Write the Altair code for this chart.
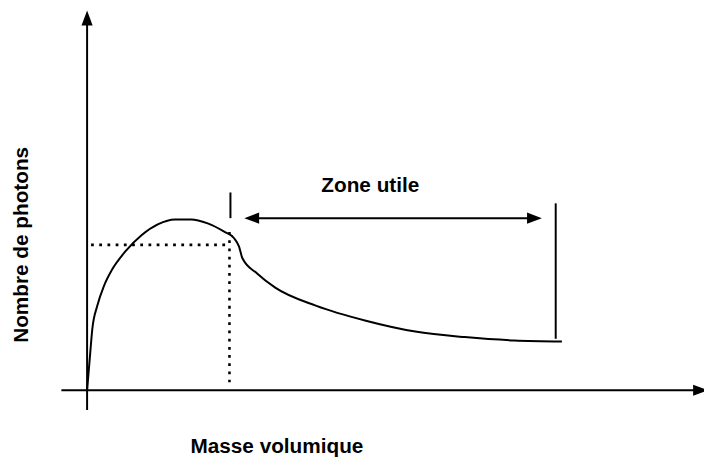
import altair as alt
import pandas as pd

# ---- data (arbitrary units: density on x, photon count on y) ----
curve_x = [0, 2.7, 5.3, 10.3, 17, 25.3, 38.7, 55.3, 72, 88.7, 105.3, 122, 138.7,
           148.7, 153.7, 157, 172, 190.3, 232, 282, 332, 382, 432, 480.3]
curve_y = [0, 32, 62, 85.3, 105.3, 122, 140.3, 157, 168, 172.7, 172.7, 168.7, 160.3,
           153.7, 145.3, 133.7, 118, 103.7, 85.3, 70.3, 59.3, 53.7, 50.3, 49.3]

# solid segments: axes, limit ticks, double-arrow shaft
seg_x1 = [0, -26, 145, 474, 166]
seg_y1 = [-20, 0, 174, 52, 174]
seg_x2 = [0, 615, 145, 474, 453]
seg_y2 = [370, 0, 200, 189, 174]

# dotted projection lines
dot_x1 = [4, 144]
dot_y1 = [147, 160]
dot_x2 = [144, 144]
dot_y2 = [147, 8]

# arrow tips
up_tip_x, up_tip_y = [0], [384]
right_tip_x, right_tip_y = [628, 460], [0, 174]
left_tip_x, left_tip_y = [159], [174]

labels = ["Zone utile", "Masse volumique", "Nombre de photons"]
label_x = [286.5, 192, -60]
label_y = [200, -64, 147]

W, H = 704, 450
xs = alt.Scale(domain=[-80, 624], nice=False, zero=False)
ys = alt.Scale(domain=[-66, 384], nice=False, zero=False)
FONT = "Liberation Sans"


def X(f):
    return alt.X(f, type="quantitative", scale=xs, axis=None)


def Y(f):
    return alt.Y(f, type="quantitative", scale=ys, axis=None)


curve_df = pd.DataFrame({"x": curve_x, "y": curve_y})
seg_df = pd.DataFrame({"x": seg_x1, "y": seg_y1, "x2": seg_x2, "y2": seg_y2})
dot_df = pd.DataFrame({"x": dot_x1, "y": dot_y1, "x2": dot_x2, "y2": dot_y2})

curve = alt.Chart(curve_df).mark_line(
    interpolate="monotone", color="black", strokeWidth=2
).encode(x=X("x"), y=Y("y"))

segs = alt.Chart(seg_df).mark_rule(color="black", strokeWidth=2).encode(
    x=X("x"), y=Y("y"), x2="x2", y2="y2"
)

dots = alt.Chart(dot_df).mark_rule(
    color="black", strokeWidth=2.6, strokeDash=[2.8, 5.5]
).encode(x=X("x"), y=Y("y"), x2="x2", y2="y2")

RIGHT = "M1,0L-1,-0.75L-1,0.75Z"
LEFT = "M-1,0L1,-0.75L1,0.75Z"
UP = "M0,-1L-0.75,1L0.75,1Z"

up_head = alt.Chart(pd.DataFrame({"x": up_tip_x, "y": up_tip_y})).mark_point(
    shape=UP, size=225, filled=True, color="black", opacity=1, yOffset=7.5
).encode(x=X("x"), y=Y("y"))

right_head = alt.Chart(pd.DataFrame({"x": right_tip_x, "y": right_tip_y})).mark_point(
    shape=RIGHT, size=225, filled=True, color="black", opacity=1, xOffset=-7.5
).encode(x=X("x"), y=Y("y"))

left_head = alt.Chart(pd.DataFrame({"x": left_tip_x, "y": left_tip_y})).mark_point(
    shape=LEFT, size=225, filled=True, color="black", opacity=1, xOffset=7.5
).encode(x=X("x"), y=Y("y"))

txt_common = dict(font=FONT, fontSize=21, fontWeight="bold", color="black",
                  align="center", baseline="alphabetic")

t_zone = alt.Chart(pd.DataFrame({"x": [label_x[0]], "y": [label_y[0]], "t": [labels[0]]})).mark_text(
    **txt_common).encode(x=X("x"), y=Y("y"), text="t:N")
t_xlab = alt.Chart(pd.DataFrame({"x": [label_x[1]], "y": [label_y[1]], "t": [labels[1]]})).mark_text(
    **txt_common).encode(x=X("x"), y=Y("y"), text="t:N")
t_ylab = alt.Chart(pd.DataFrame({"x": [label_x[2]], "y": [label_y[2]], "t": [labels[2]]})).mark_text(
    angle=270, **txt_common).encode(x=X("x"), y=Y("y"), text="t:N")

chart = alt.layer(
    dots, curve, segs, up_head, right_head, left_head, t_zone, t_xlab, t_ylab
).properties(
    width=W, height=H, padding=0, autosize=alt.AutoSizeParams(type="none")
).configure_view(strokeWidth=0)

chart.save("out.html", embed_options={"renderer": "svg", "actions": False})
